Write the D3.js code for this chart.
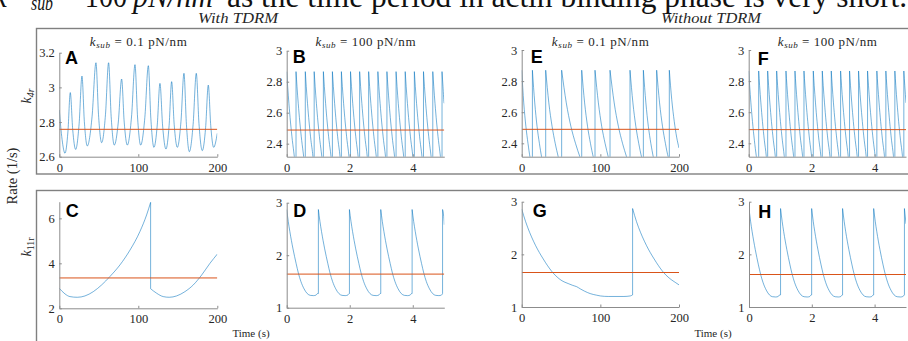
<!DOCTYPE html>
<html>
<head>
<meta charset="utf-8">
<script src="https://cdn.jsdelivr.net/npm/d3@7"></script>
<style>
  body { margin: 0; background: #fff; }
  svg { display: block; }
  text { font-family: "Liberation Serif", "Times New Roman", serif; fill: #262626; }
</style>
</head>
<body>
<script>
// ---------- tick labels ----------
const xTicksLong = [0, 100, 200];
const xTicksShort = [0, 2, 4];
const yTicksA = [2.6, 2.8, 3, 3.2];
const yTicksK4 = [2.4, 2.6, 2.8, 3];
const yTicksC = [2, 4, 6];
const yTicksK11 = [1, 2, 3];

// ---------- mean rates (orange reference lines) ----------
const meanA = 2.758, meanB = 2.488, meanE = 2.49, meanF = 2.488;
const meanC = 3.35, meanD = 1.64, meanG = 1.655, meanH = 1.617;

// ---------- A: k4r, with TDRM, ksub = 0.1 ----------
const seriesA = [
  [0, 2.87], [3.5, 2.70], [7.2, 2.62], [10.9, 2.743], [13.9, 2.97], [16.96, 2.757],
  [20.7, 2.642], [25.1, 2.79], [28.7, 3.065], [31.7, 2.803], [35.4, 2.662], [41.45, 2.83],
  [46.4, 3.142], [49.64, 2.842], [53.6, 2.681], [58.44, 2.842], [62.4, 3.142], [65.64, 2.833],
  [69.6, 2.667], [74.7, 2.80], [78.9, 3.048], [82.14, 2.80], [86.1, 2.667], [91.4, 2.829],
  [95.8, 3.131], [99.04, 2.829], [103, 2.667], [108.3, 2.827], [112.7, 3.125], [115.9, 2.819],
  [119.8, 2.654], [124.0, 2.783], [127.4, 3.023], [130.8, 2.777], [135, 2.644], [139.0, 2.78],
  [142.2, 3.033], [145.4, 2.787], [149.4, 2.654], [154.0, 2.803], [157.8, 3.081], [160.9, 2.787],
  [164.6, 2.629], [169.4, 2.787], [173.4, 3.081], [176.8, 2.791], [181, 2.635], [185.2, 2.767],
  [188.6, 3.013], [191.7, 2.78], [195.4, 2.654], [200, 2.735]
];

// ---------- B: k4r, with TDRM, ksub = 100 ----------
const spikesB = [0.296, 0.590, 0.872, 1.164, 1.450, 1.735, 2.025, 2.314, 2.600, 2.893,
                 3.180, 3.470, 3.760, 4.050, 4.340, 4.635, 4.928];
const toothOffsetsK4 = [0, 0.03, 0.07, 0.12, 0.18, 0.24, 0.30];
const toothValuesK4 = [2.865, 2.77, 2.66, 2.54, 2.42, 2.32, 2.23];
const preSpikeK4 = 2.2, endB = 2.66;

// ---------- F: k4r, without TDRM, ksub = 100 ----------
const spikesF = [0.317, 0.603, 0.889, 1.185, 1.471, 1.757, 2.053, 2.339, 2.624, 2.921,
                 3.206, 3.492, 3.778, 4.074, 4.360, 4.646, 4.931];
const endF = 2.66;

// ---------- E: k4r, without TDRM, ksub = 0.1 ----------
const seriesE = [
  [0, 2.87], [2.6, 2.66], [5.3, 2.51], [8.0, 2.40], [10.6, 2.31], [13.6, 2.25],
  [13.6, 2.87], [16.6, 2.66], [19.5, 2.51], [22.5, 2.40], [25.4, 2.31], [30.5, 2.20],
  [30.5, 2.87], [34.5, 2.66], [38.6, 2.51], [42.6, 2.40], [46.6, 2.31], [50.8, 2.22],
  [50.8, 2.87], [56.7, 2.66], [62.5, 2.51], [68.4, 2.40], [74.2, 2.31], [76.3, 2.28],
  [76.3, 2.87], [80.0, 2.66], [83.7, 2.51], [87.4, 2.40], [91.1, 2.31], [93.2, 2.27],
  [93.2, 2.87], [97.5, 2.66], [101.7, 2.51], [106.0, 2.40], [110.2, 2.31], [112.3, 2.27],
  [112.3, 2.87], [117.6, 2.66], [122.9, 2.51], [128.2, 2.40], [133.5, 2.31], [137.7, 2.24],
  [137.7, 2.87], [141.4, 2.66], [145.1, 2.51], [148.8, 2.40], [152.5, 2.31], [154.7, 2.27],
  [154.7, 2.87], [157.9, 2.66], [161.0, 2.51], [164.2, 2.40], [167.4, 2.31], [171.6, 2.22],
  [171.6, 2.87], [175.3, 2.66], [179.0, 2.51], [182.7, 2.40], [186.4, 2.31], [187.7, 2.29],
  [187.7, 2.87], [190.8, 2.68], [194.0, 2.54], [197.0, 2.44], [200, 2.37]
];

// ---------- C: k11r, with TDRM, ksub = 0.1 ----------
const seriesC = [
  [0, 2.89], [7.2, 2.64], [13.5, 2.52], [22.8, 2.49], [32.5, 2.55], [43, 2.74],
  [53.6, 3.04], [64, 3.41], [76.8, 3.93], [89.5, 4.59], [102, 5.41], [110.5, 6.15],
  [115.6, 6.71], [115.6, 2.87], [123.2, 2.67], [131.6, 2.52], [139.2, 2.49], [148.5, 2.55],
  [159, 2.74], [169.6, 3.04], [180.2, 3.48], [190.7, 4.0], [200, 4.41]
];

// ---------- D / H: k11r, ksub = 100 ----------
const spikesD = [1.005, 1.99, 2.984, 3.979, 4.945];
const toothOffsetsD = [0, 0.05, 0.1, 0.2, 0.3, 0.37, 0.45, 0.55, 0.65, 0.75, 0.85, 0.93, 0.98];
const toothValuesD = [2.87, 2.64, 2.45, 2.12, 1.84, 1.66, 1.50, 1.36, 1.27, 1.235, 1.23, 1.24, 1.27];
const endD = 2.58;
const spikesH = [1.005, 1.995, 2.98, 3.97, 4.95];
const toothValuesH = [2.87, 2.63, 2.43, 2.09, 1.80, 1.62, 1.46, 1.32, 1.23, 1.195, 1.19, 1.20, 1.23];
const endH = 2.58;

// ---------- G: k11r, without TDRM, ksub = 0.1 ----------
const seriesG = [
  [0, 2.86], [5, 2.62], [10, 2.42], [15, 2.25], [20, 2.10], [25, 1.97], [30, 1.85],
  [35, 1.74], [40, 1.645], [45, 1.57], [50, 1.51], [55, 1.47], [60, 1.44], [65, 1.41],
  [70, 1.385], [75, 1.34], [80, 1.30], [87, 1.255], [95, 1.225], [100, 1.21], [110, 1.20],
  [130, 1.20], [138, 1.21], [141, 1.23],
  [141, 2.87], [146, 2.62], [151, 2.42], [156, 2.25], [161, 2.10], [166, 1.97], [171, 1.85],
  [176, 1.74], [181, 1.645], [186, 1.57], [191, 1.51], [196, 1.46], [200, 1.42]
];

// ---------- helpers ----------
// assemble a sawtooth series from spike times and a decay profile
function sawtooth(spikes, offsets, values, tEnd, endVal, preVal) {
  const starts = [0, ...spikes];
  const pts = [];
  starts.forEach((s, i) => {
    const next = i + 1 < starts.length ? starts[i + 1] : tEnd;
    offsets.forEach((o, j) => { if (s + o < next - 1e-9) pts.push([s + o, values[j]]); });
    if (i + 1 < starts.length) pts.push([next, preVal]);
    else pts.push([tEnd, endVal]);
  });
  return pts;
}
const seriesB = sawtooth(spikesB, toothOffsetsK4, toothValuesK4, 5, endB, preSpikeK4);
const seriesF = sawtooth(spikesF, toothOffsetsK4, toothValuesK4, 5, endF, preSpikeK4);
const seriesD = sawtooth(spikesD, toothOffsetsD, toothValuesD, 5, endD, 1.27);
const seriesH = sawtooth(spikesH, toothOffsetsD, toothValuesH, 5, endH, 1.23);

// ---------- layout ----------
const W = 908, H = 341;
const BLUE = "#0072BD", ORANGE = "#D95319";

const svg = d3.select("body").append("svg").attr("width", W).attr("height", H);

// heading line (partially above the frame), set piece by piece
function headPiece(txt, x, y, size, italic, len) {
  const t = svg.append("text").attr("x", x).attr("y", y)
    .style("font-size", size + "px").style("fill", "#111").text(txt);
  if (italic) t.style("font-style", "italic");
  if (len) t.attr("textLength", len).attr("lengthAdjust", "spacingAndGlyphs");
  return t;
}
headPiece("k", -7, 7, 31, true);
headPiece("sub", 31, 9.5, 22, true, 22);
headPiece("= 100", 62, 7, 31, false, 65);
headPiece("pN/nm", 133, 7, 31, true, 80);
headPiece("as the time period in actin binding phase is very short.", 227, 7, 31, false, 680);

svg.append("text").attr("x", 238).attr("y", 22.5).attr("text-anchor", "middle")
  .attr("textLength", 80).attr("lengthAdjust", "spacingAndGlyphs")
  .style("font-style", "italic").style("font-size", "14px").text("With TDRM");
svg.append("text").attr("x", 711).attr("y", 22.5).attr("text-anchor", "middle")
  .attr("textLength", 100).attr("lengthAdjust", "spacingAndGlyphs")
  .style("font-style", "italic").style("font-size", "14px").text("Without TDRM");

// frames
svg.append("rect").attr("x", 36.5).attr("y", 28.5).attr("width", 900).attr("height", 145.5)
  .attr("fill", "none").attr("stroke", "#808080").attr("stroke-width", 1.4);
svg.append("rect").attr("x", 36.5).attr("y", 190.5).attr("width", 900).attr("height", 200)
  .attr("fill", "none").attr("stroke", "#808080").attr("stroke-width", 1.4);

// shared labels
function rotLabel(x, y, parts, size) {
  const t = svg.append("text").attr("transform", `translate(${x},${y}) rotate(-90)`)
    .attr("text-anchor", "middle").style("font-size", size + "px");
  parts.forEach(p => {
    const s = t.append("tspan").text(p.t);
    if (p.i) s.style("font-style", "italic");
    if (p.sub) s.style("font-size", (size * 0.7) + "px").attr("dy", 3);
  });
  return t;
}
rotLabel(17, 176, [{ t: "Rate (1/s)" }], 14.5);
rotLabel(31, 96, [{ t: "k", i: true }, { t: "4r", i: true, sub: true }], 14);
rotLabel(31, 247, [{ t: "k", i: true }, { t: "11r", sub: true }], 14);

svg.append("text").attr("x", 251).attr("y", 337).attr("text-anchor", "middle")
  .style("font-size", "11px").text("Time (s)");
svg.append("text").attr("x", 713).attr("y", 337).attr("text-anchor", "middle")
  .style("font-size", "11px").text("Time (s)");

// ---------- panels ----------
const panels = [
  { id: "A", x0: 59.3, x1: 217.3, yT: 52.7, yB: 156.7, xd: [0, 200], yd: [2.6, 3.2], xt: xTicksLong, yt: yTicksA, data: seriesA, mean: meanA, title: "0.1", tw: 97, lx: 65, ly: 63.5 },
  { id: "B", x0: 286.7, x1: 444.3, yT: 50.7, yB: 156.7, xd: [0, 5], yd: [2.316, 3], xt: xTicksShort, yt: yTicksK4, data: seriesB, mean: meanB, title: "100", tw: 100, lx: 292.7, ly: 63.3 },
  { id: "E", x0: 521.7, x1: 679, yT: 50, yB: 156.7, xd: [0, 200], yd: [2.314, 3], xt: xTicksLong, yt: yTicksK4, data: seriesE, mean: meanE, title: "0.1", tw: 97, lx: 530.7, ly: 63.3 },
  { id: "F", x0: 748.7, x1: 906, yT: 50, yB: 156.7, xd: [0, 5], yd: [2.314, 3], xt: xTicksShort, yt: yTicksK4, data: seriesF, mean: meanF, title: "100", tw: 99, lx: 757.7, ly: 64.5 },
  { id: "C", x0: 59.3, x1: 217.3, yT: 201.7, yB: 308.3, xd: [0, 200], yd: [2, 6.74], xt: xTicksLong, yt: yTicksC, data: seriesC, mean: meanC, lx: 65.7, ly: 217.3 },
  { id: "D", x0: 286.7, x1: 444.3, yT: 202.7, yB: 307.7, xd: [0, 5], yd: [1, 3], xt: xTicksShort, yt: yTicksK11, data: seriesD, mean: meanD, lx: 293.3, ly: 217.3 },
  { id: "G", x0: 521.7, x1: 679, yT: 201.7, yB: 307, xd: [0, 200], yd: [1, 3], xt: xTicksLong, yt: yTicksK11, data: seriesG, mean: meanG, lx: 532.7, ly: 216.5 },
  { id: "H", x0: 749, x1: 906, yT: 201.7, yB: 307, xd: [0, 5], yd: [1, 3], xt: xTicksShort, yt: yTicksK11, data: seriesH, mean: meanH, lx: 758.3, ly: 217.7 }
];

const fmt = d => String(d);

panels.forEach(p => {
  const x = d3.scaleLinear().domain(p.xd).range([p.x0, p.x1]);
  const y = d3.scaleLinear().domain(p.yd).range([p.yB, p.yT]);
  const g = svg.append("g");

  // clip region for the data lines
  const cid = "clip" + p.id;
  svg.append("clipPath").attr("id", cid).append("rect")
    .attr("x", p.x0).attr("y", p.yT).attr("width", p.x1 - p.x0).attr("height", p.yB - p.yT);
  const plot = g.append("g").attr("clip-path", `url(#${cid})`);

  // split the series at vertical jumps: smooth runs + straight jumps
  const runs = [];
  let cur = [p.data[0]];
  for (let i = 1; i < p.data.length; i++) {
    const pt = p.data[i];
    if (pt[0] === cur[cur.length - 1][0]) {
      runs.push({ smooth: cur });
      runs.push({ jump: [cur[cur.length - 1], pt] });
      cur = [pt];
    } else cur.push(pt);
  }
  runs.push({ smooth: cur });

  const smooth = d3.line().x(d => x(d[0])).y(d => y(d[1])).curve(d3.curveMonotoneX);
  const straight = d3.line().x(d => x(d[0])).y(d => y(d[1]));
  runs.forEach(r => {
    plot.append("path")
      .attr("d", r.smooth ? smooth(r.smooth) : straight(r.jump))
      .attr("fill", "none").attr("stroke", BLUE).attr("stroke-width", 0.55)
      .attr("stroke-linejoin", "round");
  });

  // mean line
  plot.append("path").attr("d", straight([[p.xd[0], p.mean], [p.xd[1], p.mean]]))
    .attr("fill", "none").attr("stroke", ORANGE).attr("stroke-width", 1);

  // axes (ticks pointing inward, MATLAB style)
  const ax = g.append("g").attr("transform", `translate(0,${p.yB})`)
    .call(d3.axisBottom(x).tickValues(p.xt).tickFormat(fmt).tickSizeInner(-2.5).tickSizeOuter(0).tickPadding(6));
  const ay = g.append("g").attr("transform", `translate(${p.x0},0)`)
    .call(d3.axisLeft(y).tickValues(p.yt).tickFormat(fmt).tickSizeInner(-2.5).tickSizeOuter(0).tickPadding(4.5));
  [ax, ay].forEach(a => {
    a.select(".domain").attr("stroke", "#8c8c8c").attr("stroke-width", 1);
    a.selectAll(".tick line").attr("stroke", "#8c8c8c");
    a.selectAll(".tick text").style("font-family", "'Liberation Serif', serif")
      .style("font-size", "12.5px").attr("fill", "#262626");
  });

  // panel letter
  g.append("text").attr("x", p.lx).attr("y", p.ly)
    .style("font-family", "'Liberation Sans', Arial, sans-serif").style("font-weight", "bold")
    .style("font-size", "18px").style("fill", "#000").text(p.id);

  // stiffness title
  if (p.title) {
    const t = g.append("text").attr("x", (p.x0 + p.x1) / 2).attr("y", 45.5)
      .attr("text-anchor", "middle").attr("textLength", p.tw).attr("lengthAdjust", "spacing")
      .style("font-size", "13px");
    t.append("tspan").text("k").style("font-style", "italic");
    t.append("tspan").text("sub").style("font-style", "italic").style("font-size", "9px").attr("dy", 2);
    t.append("tspan").text(" = " + p.title + " pN/nm").attr("dy", -2);
  }
});
</script>
</body>
</html>
